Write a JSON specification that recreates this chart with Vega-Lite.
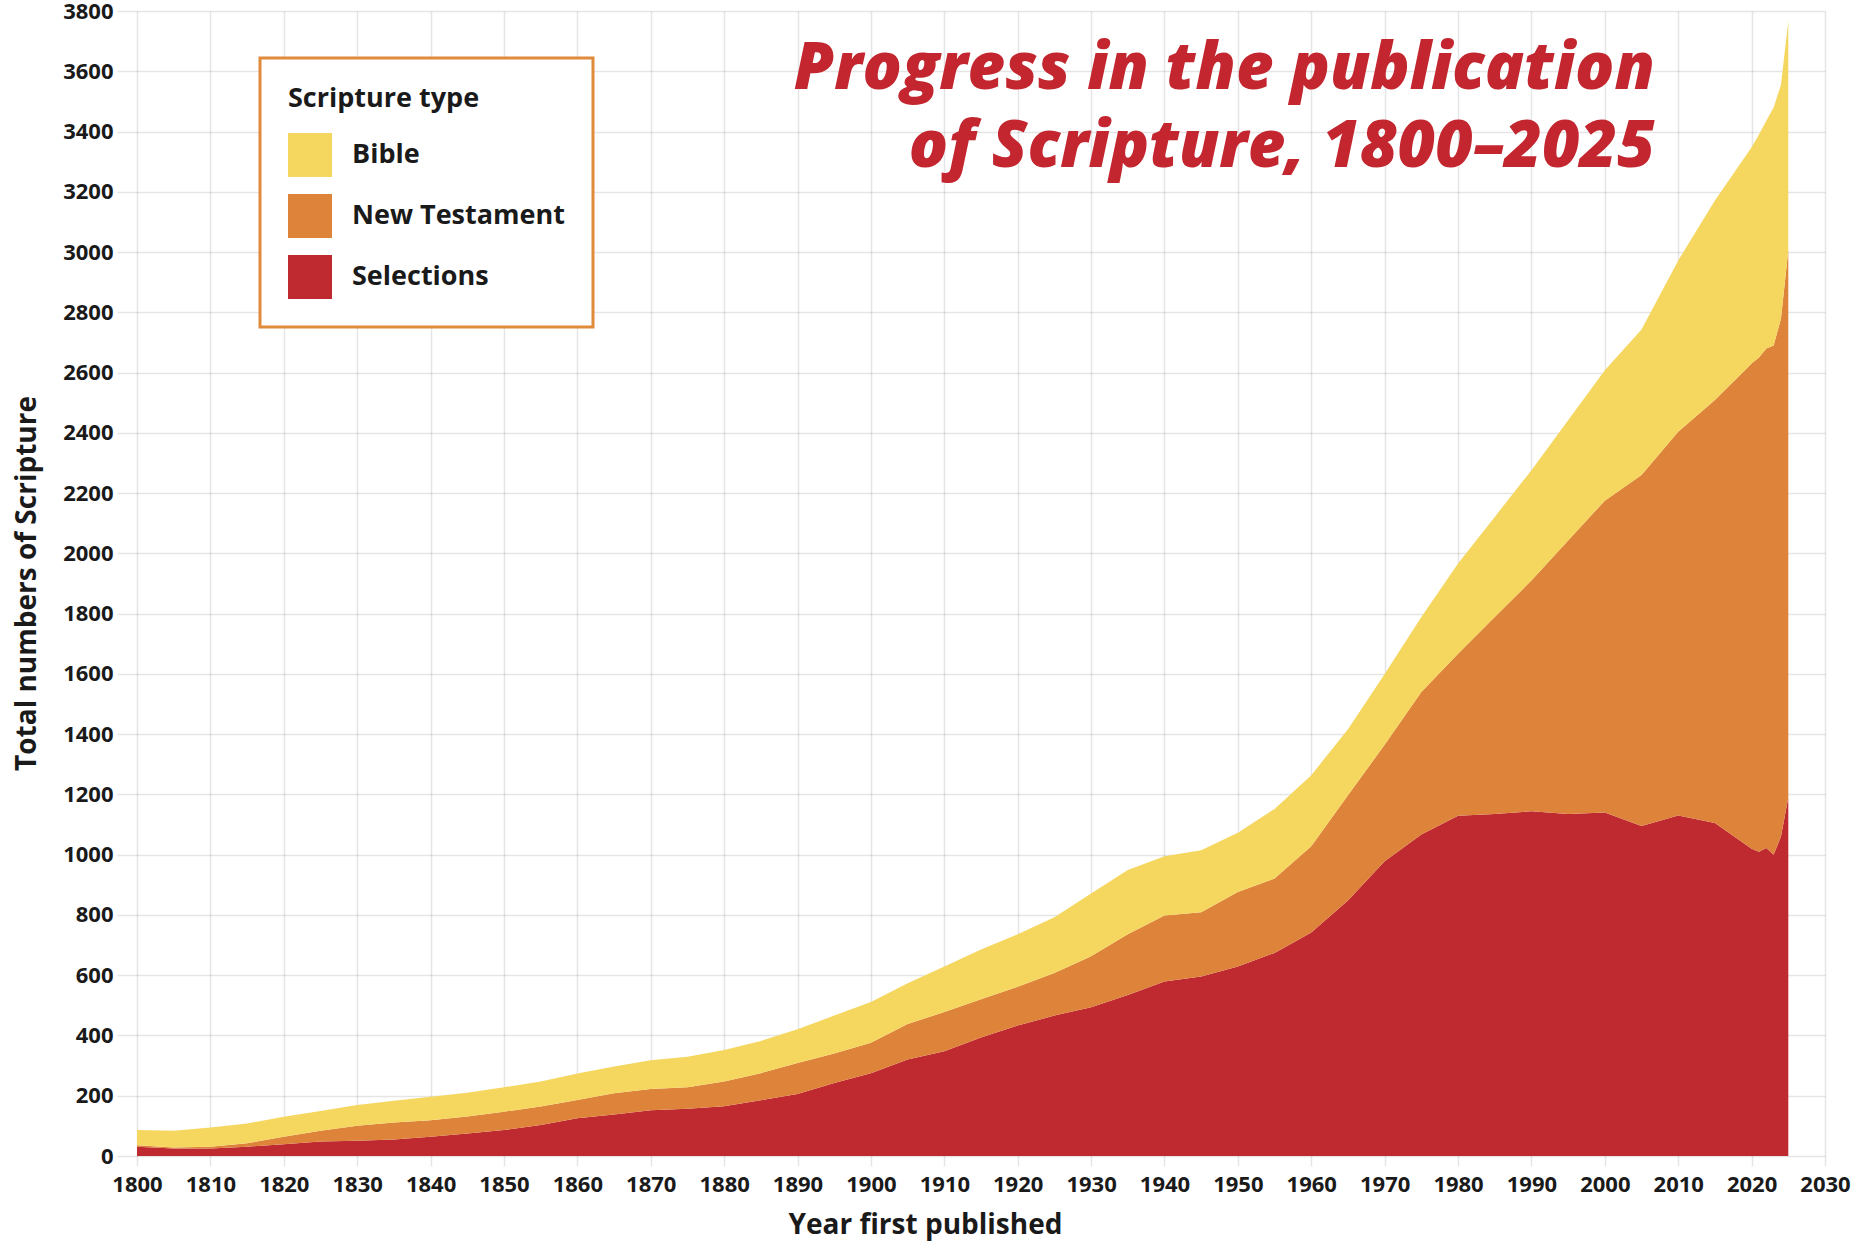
{
  "$schema": "https://vega.github.io/schema/vega-lite/v6.json",
  "width": 1688,
  "height": 1145,
  "autosize": {"type": "none"},
  "padding": {"left": 137, "top": 11, "right": 40, "bottom": 90},
  "background": "white",
  "title": {
    "text": ["Progress in the publication", "of Scripture, 1800–2025"],
    "orient": "top",
    "anchor": "end",
    "frame": "group",
    "align": "right",
    "baseline": "alphabetic",
    "offset": 0,
    "dy": 232,
    "dx": -170,
    "font": "Open Sans",
    "fontSize": 65,
    "fontWeight": 800,
    "fontStyle": "italic",
    "color": "#c3262e",
    "lineHeight": 78
  },
  "data": {
    "values": [
      {"year": 1800, "type": "Selections", "count": 31}, {"year": 1800, "type": "New Testament", "count": 5}, {"year": 1800, "type": "Bible", "count": 50},
      {"year": 1805, "type": "Selections", "count": 25}, {"year": 1805, "type": "New Testament", "count": 3}, {"year": 1805, "type": "Bible", "count": 56},
      {"year": 1810, "type": "Selections", "count": 25}, {"year": 1810, "type": "New Testament", "count": 6}, {"year": 1810, "type": "Bible", "count": 64},
      {"year": 1815, "type": "Selections", "count": 31}, {"year": 1815, "type": "New Testament", "count": 11}, {"year": 1815, "type": "Bible", "count": 66},
      {"year": 1820, "type": "Selections", "count": 39}, {"year": 1820, "type": "New Testament", "count": 25}, {"year": 1820, "type": "Bible", "count": 66},
      {"year": 1825, "type": "Selections", "count": 48}, {"year": 1825, "type": "New Testament", "count": 36}, {"year": 1825, "type": "Bible", "count": 65},
      {"year": 1830, "type": "Selections", "count": 51}, {"year": 1830, "type": "New Testament", "count": 49}, {"year": 1830, "type": "Bible", "count": 69},
      {"year": 1835, "type": "Selections", "count": 55}, {"year": 1835, "type": "New Testament", "count": 56}, {"year": 1835, "type": "Bible", "count": 72},
      {"year": 1840, "type": "Selections", "count": 64}, {"year": 1840, "type": "New Testament", "count": 55}, {"year": 1840, "type": "Bible", "count": 78},
      {"year": 1845, "type": "Selections", "count": 75}, {"year": 1845, "type": "New Testament", "count": 56}, {"year": 1845, "type": "Bible", "count": 79},
      {"year": 1850, "type": "Selections", "count": 86}, {"year": 1850, "type": "New Testament", "count": 61}, {"year": 1850, "type": "Bible", "count": 81},
      {"year": 1855, "type": "Selections", "count": 103}, {"year": 1855, "type": "New Testament", "count": 61}, {"year": 1855, "type": "Bible", "count": 83},
      {"year": 1860, "type": "Selections", "count": 125}, {"year": 1860, "type": "New Testament", "count": 61}, {"year": 1860, "type": "Bible", "count": 88},
      {"year": 1865, "type": "Selections", "count": 138}, {"year": 1865, "type": "New Testament", "count": 70}, {"year": 1865, "type": "Bible", "count": 89},
      {"year": 1870, "type": "Selections", "count": 152}, {"year": 1870, "type": "New Testament", "count": 70}, {"year": 1870, "type": "Bible", "count": 96},
      {"year": 1875, "type": "Selections", "count": 157}, {"year": 1875, "type": "New Testament", "count": 71}, {"year": 1875, "type": "Bible", "count": 101},
      {"year": 1880, "type": "Selections", "count": 165}, {"year": 1880, "type": "New Testament", "count": 82}, {"year": 1880, "type": "Bible", "count": 105},
      {"year": 1885, "type": "Selections", "count": 185}, {"year": 1885, "type": "New Testament", "count": 90}, {"year": 1885, "type": "Bible", "count": 107},
      {"year": 1890, "type": "Selections", "count": 206}, {"year": 1890, "type": "New Testament", "count": 103}, {"year": 1890, "type": "Bible", "count": 112},
      {"year": 1895, "type": "Selections", "count": 242}, {"year": 1895, "type": "New Testament", "count": 98}, {"year": 1895, "type": "Bible", "count": 126},
      {"year": 1900, "type": "Selections", "count": 275}, {"year": 1900, "type": "New Testament", "count": 101}, {"year": 1900, "type": "Bible", "count": 135},
      {"year": 1905, "type": "Selections", "count": 320}, {"year": 1905, "type": "New Testament", "count": 118}, {"year": 1905, "type": "Bible", "count": 135},
      {"year": 1910, "type": "Selections", "count": 348}, {"year": 1910, "type": "New Testament", "count": 130}, {"year": 1910, "type": "Bible", "count": 151},
      {"year": 1915, "type": "Selections", "count": 393}, {"year": 1915, "type": "New Testament", "count": 127}, {"year": 1915, "type": "Bible", "count": 165},
      {"year": 1920, "type": "Selections", "count": 433}, {"year": 1920, "type": "New Testament", "count": 129}, {"year": 1920, "type": "Bible", "count": 174},
      {"year": 1925, "type": "Selections", "count": 466}, {"year": 1925, "type": "New Testament", "count": 141}, {"year": 1925, "type": "Bible", "count": 185},
      {"year": 1930, "type": "Selections", "count": 494}, {"year": 1930, "type": "New Testament", "count": 169}, {"year": 1930, "type": "Bible", "count": 208},
      {"year": 1935, "type": "Selections", "count": 534}, {"year": 1935, "type": "New Testament", "count": 202}, {"year": 1935, "type": "Bible", "count": 213},
      {"year": 1940, "type": "Selections", "count": 579}, {"year": 1940, "type": "New Testament", "count": 219}, {"year": 1940, "type": "Bible", "count": 197},
      {"year": 1945, "type": "Selections", "count": 596}, {"year": 1945, "type": "New Testament", "count": 213}, {"year": 1945, "type": "Bible", "count": 206},
      {"year": 1950, "type": "Selections", "count": 629}, {"year": 1950, "type": "New Testament", "count": 247}, {"year": 1950, "type": "Bible", "count": 197},
      {"year": 1955, "type": "Selections", "count": 674}, {"year": 1955, "type": "New Testament", "count": 247}, {"year": 1955, "type": "Bible", "count": 231},
      {"year": 1960, "type": "Selections", "count": 742}, {"year": 1960, "type": "New Testament", "count": 286}, {"year": 1960, "type": "Bible", "count": 236},
      {"year": 1965, "type": "Selections", "count": 848}, {"year": 1965, "type": "New Testament", "count": 349}, {"year": 1965, "type": "Bible", "count": 219},
      {"year": 1970, "type": "Selections", "count": 978}, {"year": 1970, "type": "New Testament", "count": 387}, {"year": 1970, "type": "Bible", "count": 235},
      {"year": 1975, "type": "Selections", "count": 1067}, {"year": 1975, "type": "New Testament", "count": 473}, {"year": 1975, "type": "Bible", "count": 249},
      {"year": 1980, "type": "Selections", "count": 1129}, {"year": 1980, "type": "New Testament", "count": 538}, {"year": 1980, "type": "Bible", "count": 299},
      {"year": 1985, "type": "Selections", "count": 1135}, {"year": 1985, "type": "New Testament", "count": 654}, {"year": 1985, "type": "Bible", "count": 332},
      {"year": 1990, "type": "Selections", "count": 1144}, {"year": 1990, "type": "New Testament", "count": 766}, {"year": 1990, "type": "Bible", "count": 366},
      {"year": 1995, "type": "Selections", "count": 1135}, {"year": 1995, "type": "New Testament", "count": 908}, {"year": 1995, "type": "Bible", "count": 399},
      {"year": 2000, "type": "Selections", "count": 1140}, {"year": 2000, "type": "New Testament", "count": 1035}, {"year": 2000, "type": "Bible", "count": 433},
      {"year": 2005, "type": "Selections", "count": 1095}, {"year": 2005, "type": "New Testament", "count": 1165}, {"year": 2005, "type": "Bible", "count": 483},
      {"year": 2010, "type": "Selections", "count": 1130}, {"year": 2010, "type": "New Testament", "count": 1274}, {"year": 2010, "type": "Bible", "count": 568},
      {"year": 2015, "type": "Selections", "count": 1105}, {"year": 2015, "type": "New Testament", "count": 1404}, {"year": 2015, "type": "Bible", "count": 662},
      {"year": 2020, "type": "Selections", "count": 1020}, {"year": 2020, "type": "New Testament", "count": 1610}, {"year": 2020, "type": "Bible", "count": 718},
      {"year": 2021, "type": "Selections", "count": 1010}, {"year": 2021, "type": "New Testament", "count": 1640}, {"year": 2021, "type": "Bible", "count": 740},
      {"year": 2022, "type": "Selections", "count": 1022}, {"year": 2022, "type": "New Testament", "count": 1658}, {"year": 2022, "type": "Bible", "count": 756},
      {"year": 2023, "type": "Selections", "count": 1000}, {"year": 2023, "type": "New Testament", "count": 1690}, {"year": 2023, "type": "Bible", "count": 790},
      {"year": 2024, "type": "Selections", "count": 1060}, {"year": 2024, "type": "New Testament", "count": 1719}, {"year": 2024, "type": "Bible", "count": 776},
      {"year": 2025, "type": "Selections", "count": 1190}, {"year": 2025, "type": "New Testament", "count": 1816}, {"year": 2025, "type": "Bible", "count": 761}
    ]
  },
  "mark": {"type": "area", "interpolate": "linear"},
  "encoding": {
    "x": {
      "field": "year",
      "type": "quantitative",
      "scale": {"domain": [1800, 2030], "nice": false, "zero": false},
      "axis": {
        "values": [1800, 1810, 1820, 1830, 1840, 1850, 1860, 1870, 1880, 1890, 1900, 1910, 1920, 1930, 1940, 1950, 1960, 1970, 1980, 1990, 2000, 2010, 2020, 2030],
        "format": "d",
        "labelFlush": false,
        "labelOverlap": false,
        "title": "Year first published",
        "titleX": 788,
        "titleY": 69,
        "titleAlign": "center",
        "titleBaseline": "middle",
        "tickSize": 10,
        "labelPadding": 8
      }
    },
    "y": {
      "field": "count",
      "type": "quantitative",
      "stack": "zero",
      "scale": {"domain": [0, 3800], "nice": false},
      "axis": {
        "values": [0, 200, 400, 600, 800, 1000, 1200, 1400, 1600, 1800, 2000, 2200, 2400, 2600, 2800, 3000, 3200, 3400, 3600, 3800],
        "format": "d",
        "labelFlush": false,
        "labelOverlap": false,
        "title": "Total numbers of Scripture",
        "titleX": -110,
        "titleY": 572,
        "titleAngle": -90,
        "titleAlign": "center",
        "titleBaseline": "middle",
        "tickSize": 20,
        "labelPadding": 4
      }
    },
    "color": {
      "field": "type",
      "type": "nominal",
      "scale": {"domain": ["Bible", "New Testament", "Selections"], "range": ["#f5d760", "#de833a", "#bf2a31"]},
      "legend": {
        "title": "Scripture type",
        "orient": "none",
        "legendX": 123,
        "legendY": 47,
        "padding": 28,
        "strokeColor": "#e08a3c",
        "fillColor": "white",
        "symbolType": "square",
        "symbolSize": 1936,
        "symbolStrokeWidth": 0,
        "symbolOpacity": 1,
        "labelOffset": 20,
        "rowPadding": 17,
        "titlePadding": 20,
        "titleFont": "Open Sans",
        "titleFontSize": 27,
        "titleFontWeight": "bold",
        "titleColor": "#1a1a1a",
        "titleLimit": 400,
        "labelFont": "Open Sans",
        "labelFontSize": 27,
        "labelFontWeight": "bold",
        "labelColor": "#1a1a1a",
        "labelLimit": 400,
        "encode": {"legend": {"update": {"strokeWidth": {"value": 3}}}}
      }
    },
    "order": {"field": "type", "sort": "descending"}
  },
  "config": {
    "view": {"stroke": null},
    "axis": {
      "zindex": 1,
      "domain": false,
      "grid": true,
      "gridColor": "#000000",
      "gridOpacity": 0.1,
      "gridWidth": 1.5,
      "tickColor": "#000000",
      "tickOpacity": 0.1,
      "tickWidth": 1.5,
      "labelFont": "Open Sans",
      "labelFontSize": 22,
      "labelFontWeight": "bold",
      "labelColor": "#1a1a1a",
      "titleFont": "Open Sans",
      "titleFontSize": 28,
      "titleFontWeight": "bold",
      "titleColor": "#1a1a1a"
    }
  }
}
